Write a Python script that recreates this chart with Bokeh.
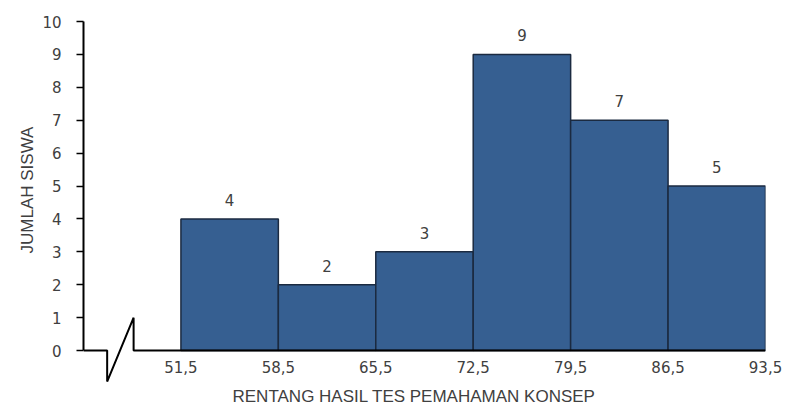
from bokeh.plotting import figure
from bokeh.models import FixedTicker, ColumnDataSource, Title
from bokeh.core.properties import value
from bokeh.embed import file_html
from bokeh.resources import INLINE

# ---- data ----
edges = [51.5, 58.5, 65.5, 72.5, 79.5, 86.5, 93.5]
counts = [4, 2, 3, 9, 7, 5]
edge_labels = ["51,5", "58,5", "65,5", "72,5", "79,5", "86,5", "93,5"]
y_ticks = [0, 1, 2, 3, 4, 5, 6, 7, 8, 9, 10]
x_title = "RENTANG HASIL TES PEMAHAMAN KONSEP"
y_title = "JUMLAH SISWA"

# axis-break zigzag (decoration on the x axis line)
break_x = [44.5, 46.2, 46.2, 48.1, 48.1, 93.5]
break_y = [0, 0, -0.94, 1.0, 0, 0]

lefts = edges[:-1]
rights = edges[1:]
centers = [(a + b) / 2 for a, b in zip(lefts, rights)]
src = ColumnDataSource(dict(left=lefts, right=rights, top=counts,
                            x=centers, label=[str(c) for c in counts]))

p = figure(width=787, height=411, output_backend="svg", toolbar_location=None,
           x_range=(44.5, 93.5), y_range=(-1.0, 10.0),
           min_border_left=83, min_border_right=22, min_border_top=21,
           min_border_bottom=28)
p.outline_line_color = None
p.grid.grid_line_color = None
p.background_fill_color = "white"
p.border_fill_color = "white"

p.quad(left="left", right="right", bottom=0, top="top", source=src,
       fill_color="#365F91", line_color="#1B2A40", line_width=1.5)

p.line(break_x, break_y, line_color="black", line_width=2)

p.text(x="x", y="top", text="label", source=src, y_offset=-19,
       text_align="center", text_baseline="middle",
       text_font=value("DejaVu Sans"), text_font_size="15px",
       text_color="#404040")

# y axis
ya = p.yaxis[0]
ya.ticker = FixedTicker(ticks=y_ticks)
ya.bounds = (0, 10)
ya.axis_line_color = "black"
ya.axis_line_width = 2
ya.major_tick_in = 0
ya.major_tick_out = 7
ya.major_tick_line_width = 1.5
ya.minor_tick_line_color = None
ya.major_label_standoff = 15
ya.major_label_text_font = "DejaVu Sans"
ya.major_label_text_font_size = "15px"
ya.major_label_text_color = "#404040"

# x axis
xa = p.xaxis[0]
xa.ticker = FixedTicker(ticks=edges)
xa.major_label_overrides = {e: l for e, l in zip(edges, edge_labels)}
xa.axis_line_color = None
xa.major_tick_line_color = None
xa.minor_tick_line_color = None
xa.major_tick_in = 0
xa.major_tick_out = 0
xa.major_label_standoff = -23
xa.major_label_text_font = "DejaVu Sans"
xa.major_label_text_font_size = "15px"
xa.major_label_text_color = "#404040"

# axis titles
p.add_layout(Title(text=x_title, align="left", offset=149, standoff=2,
                   text_font="Liberation Sans", text_font_size="17px",
                   text_font_style="normal", text_color="#404040"), "below")
p.add_layout(Title(text=y_title, align="left", offset=130, standoff=6,
                   text_font="Liberation Sans", text_font_size="17px",
                   text_font_style="normal", text_color="#404040"), "left")

open("out.html", "w").write(file_html(p, INLINE))
